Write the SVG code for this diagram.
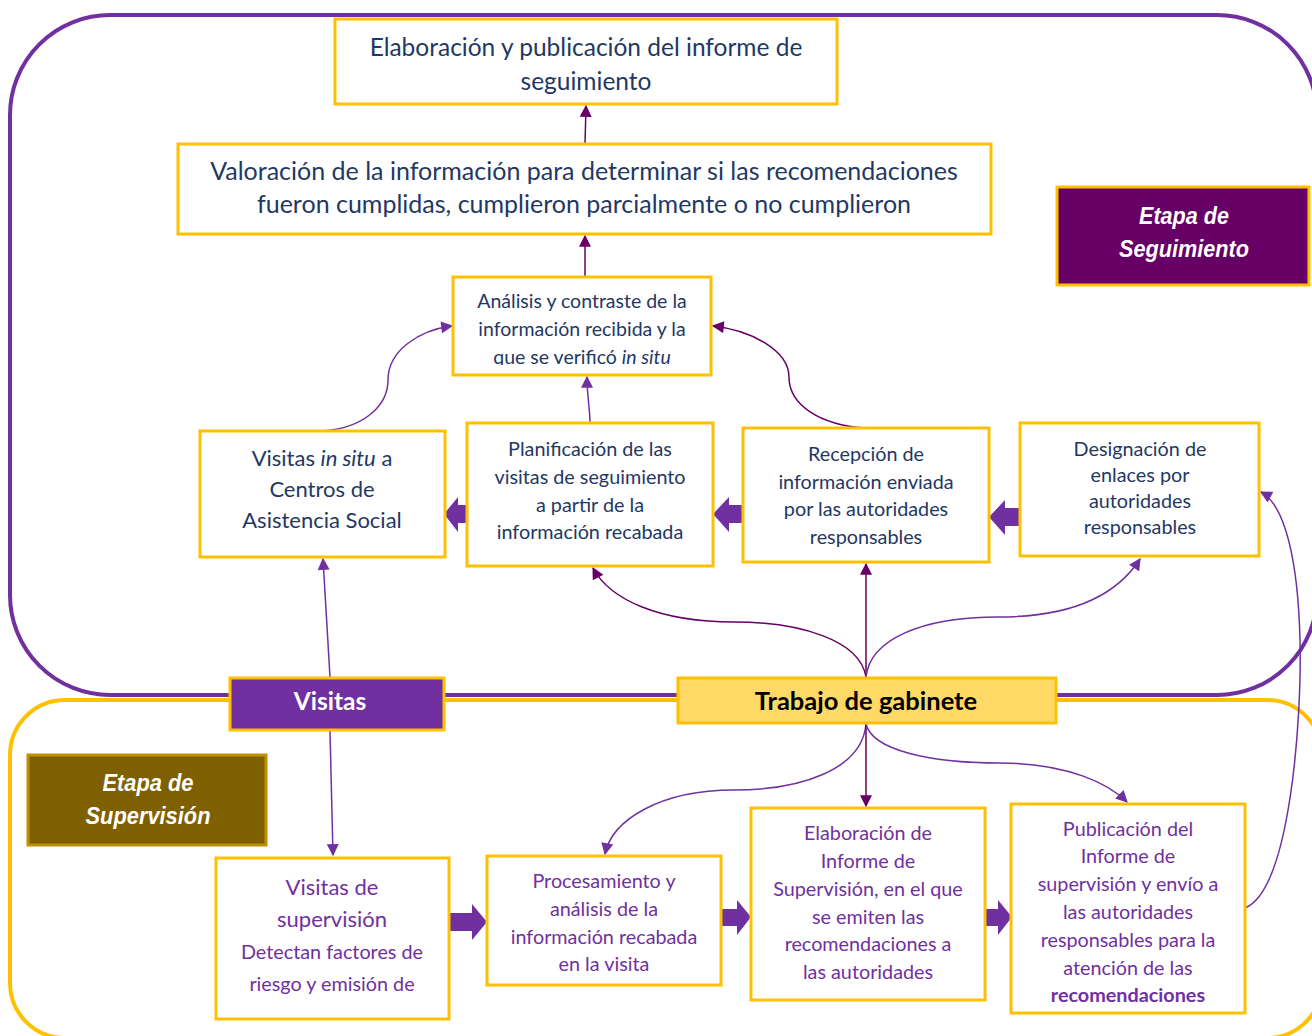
<svg xmlns="http://www.w3.org/2000/svg" width="1312" height="1036" viewBox="0 0 1312 1036">
<style>
.box{fill:#fff;stroke:#FFC000;stroke-width:3}
.t{font-family:Lato,"Liberation Sans",sans-serif;text-anchor:middle}
.navy{fill:#1F3864}
.pur{fill:#7030A0}
.s{font-size:19.8px}
.lbl{font-family:"Liberation Sans",Arial,sans-serif;font-weight:bold;font-style:italic;fill:#fff;text-anchor:middle;font-size:24px}
.c1{fill:none;stroke:#660066;stroke-width:1.5}
.c2{fill:none;stroke:#7030A0;stroke-width:1.5}
.blk{fill:#7030A0}
</style>
<defs>
<marker id="a1" viewBox="0 0 10 10" refX="9" refY="5" markerWidth="13" markerHeight="12" markerUnits="userSpaceOnUse" orient="auto"><path d="M0,0 L10,5 L0,10 z" fill="#660066"/></marker>
<marker id="a2" viewBox="0 0 10 10" refX="9" refY="5" markerWidth="13" markerHeight="12" markerUnits="userSpaceOnUse" orient="auto"><path d="M0,0 L10,5 L0,10 z" fill="#7030A0"/></marker>
<clipPath id="clipC"><rect x="450" y="275" width="265" height="90"/></clipPath>
</defs>

<g id="stage-seguimiento"><rect x="10" y="15" width="1307" height="680" rx="100" ry="100" fill="none" stroke="#7030A0" stroke-width="4"/></g>
<g id="stage-supervision"><rect x="10" y="700" width="1312" height="338" rx="55" ry="55" fill="none" stroke="#FFC000" stroke-width="4"/></g>

<g id="connectors">
<path class="c1" d="M585,144 L586,106" marker-end="url(#a1)"/>
<path class="c1" d="M585,297 L585,236" marker-end="url(#a1)"/>
<path class="c2" d="M322,431 C365,428 388,405 388,380 C388,350 420,330 452,326" marker-end="url(#a2)"/>
<path class="c2" d="M590,423 C590,410 587,395 587,377" marker-end="url(#a2)"/>
<path class="c1" d="M865,428 C820,425 789,405 789,377 C789,350 750,330 713,326" marker-end="url(#a1)"/>
<path class="c1" d="M866,677 C860,640 800,622 734,622 C660,622 610,600 593,568" marker-end="url(#a1)"/>
<path class="c1" d="M866,677 L866,564" marker-end="url(#a1)"/>
<path class="c2" d="M866,677 C870,640 920,617 999,617 C1080,617 1120,590 1140,559" marker-end="url(#a2)"/>
<path class="c2" d="M866,724 C862,770 800,790 734,790 C660,790 612,820 605,854" marker-end="url(#a2)"/>
<path class="c1" d="M866,724 L866,806" marker-end="url(#a1)"/>
<path class="c2" d="M866,724 C872,750 930,763 999,763 C1070,763 1110,785 1127,802" marker-end="url(#a2)"/>
<path class="c2" d="M1245,908 C1290,890 1302,720 1300,640 C1298,560 1285,505 1261,492" marker-end="url(#a2)"/>
<path class="c2" d="M330,677 L323,559" marker-end="url(#a2)"/>
<path class="c2" d="M330,731 L333,855" marker-end="url(#a2)"/>
<polygon class="blk" points="444,514 458,497 458,505 468,505 468,523 458,523 458,532"/>
<polygon class="blk" points="713,514 729,497 729,505 744,505 744,523 729,523 729,532"/>
<polygon class="blk" points="989,517 1005,500 1005,508 1021,508 1021,526 1005,526 1005,535"/>
<polygon class="blk" points="487,922 472,904 472,913 450,913 450,931 472,931 472,940"/>
<polygon class="blk" points="751,917 737,900 737,909 721,909 721,926 737,926 737,935"/>
<polygon class="blk" points="1012,917 998,900 998,909 986,909 986,926 998,926 998,935"/>
</g>

<g id="node-informe-seguimiento">
<rect class="box" x="335" y="19" width="502" height="85"/>
<text class="t navy" font-size="24.5" x="586" y="56">Elaboración y publicación del informe de</text>
<text class="t navy" font-size="24.5" x="586" y="90">seguimiento</text>
</g>

<g id="node-valoracion">
<rect class="box" x="178" y="144" width="813" height="90"/>
<text class="t navy" font-size="25" x="584" y="180">Valoración de la información para determinar si las recomendaciones</text>
<text class="t navy" font-size="25" x="584" y="213">fueron cumplidas, cumplieron parcialmente o no cumplieron</text>
</g>

<g id="node-analisis">
<rect class="box" x="453" y="277" width="258" height="98"/>
<g clip-path="url(#clipC)">
<text class="t navy" font-size="19.5" x="582" y="308">Análisis y contraste de la</text>
<text class="t navy" font-size="19.5" x="582" y="336">información recibida y la</text>
<text class="t navy" font-size="19.5" x="582" y="364">que se verificó <tspan font-style="italic">in situ</tspan></text>
</g>
</g>

<g id="node-visitas-insitu">
<rect class="box" x="200" y="431" width="245" height="126"/>
<text class="t navy" font-size="22" x="322" y="466">Visitas <tspan font-style="italic">in situ</tspan> a</text>
<text class="t navy" font-size="22" x="322" y="497">Centros de</text>
<text class="t navy" font-size="22" x="322" y="528">Asistencia Social</text>
</g>

<g id="node-planificacion">
<rect class="box" x="467" y="423" width="246" height="143"/>
<text class="t navy s" x="590" y="456">Planificación de las</text>
<text class="t navy s" x="590" y="484">visitas de seguimiento</text>
<text class="t navy s" x="590" y="512">a partir de la</text>
<text class="t navy s" x="590" y="539">información recabada</text>
</g>

<g id="node-recepcion">
<rect class="box" x="743" y="428" width="246" height="134"/>
<text class="t navy s" x="866" y="461">Recepción de</text>
<text class="t navy s" x="866" y="489">información enviada</text>
<text class="t navy s" x="866" y="516">por las autoridades</text>
<text class="t navy s" x="866" y="544">responsables</text>
</g>

<g id="node-designacion">
<rect class="box" x="1020" y="423" width="239" height="133"/>
<text class="t navy s" x="1140" y="456">Designación de</text>
<text class="t navy s" x="1140" y="482">enlaces por</text>
<text class="t navy s" x="1140" y="508">autoridades</text>
<text class="t navy s" x="1140" y="534">responsables</text>
</g>

<g id="label-etapa-seguimiento">
<rect x="1057" y="187" width="252" height="98" fill="#660066" stroke="#FFC000" stroke-width="3"/>
<text class="lbl" x="1184" y="224" textLength="90" lengthAdjust="spacingAndGlyphs">Etapa de</text>
<text class="lbl" x="1184" y="257" textLength="130" lengthAdjust="spacingAndGlyphs">Seguimiento</text>
</g>

<g id="node-visitas">
<rect x="230" y="678" width="214" height="52" fill="#7030A0" stroke="#FFC000" stroke-width="3"/>
<text x="330" y="710" font-family="Lato,'Liberation Sans',sans-serif" font-weight="bold" font-size="24.5" fill="#fff" text-anchor="middle">Visitas</text>
</g>

<g id="node-trabajo-gabinete">
<rect x="678" y="678" width="378" height="45" fill="#FFD966" stroke="#FFC000" stroke-width="3"/>
<text x="866" y="710" font-family="Lato,'Liberation Sans',sans-serif" font-weight="bold" font-size="25.5" fill="#000" text-anchor="middle">Trabajo de gabinete</text>
</g>

<g id="label-etapa-supervision">
<rect x="28" y="755" width="238" height="90" fill="#7F6000" stroke="#BF8F00" stroke-width="3"/>
<text class="lbl" x="148" y="791" textLength="91" lengthAdjust="spacingAndGlyphs">Etapa de</text>
<text class="lbl" x="148" y="824" textLength="125" lengthAdjust="spacingAndGlyphs">Supervisión</text>
</g>

<g id="node-visitas-supervision">
<rect class="box" x="216" y="858" width="233" height="161"/>
<text class="t pur" font-size="22" x="332" y="895">Visitas de</text>
<text class="t pur" font-size="22" x="332" y="927">supervisión</text>
<text class="t pur s" x="332" y="959">Detectan factores de</text>
<text class="t pur s" x="332" y="991">riesgo y emisión de</text>
</g>

<g id="node-procesamiento">
<rect class="box" x="487" y="856" width="234" height="129"/>
<text class="t pur s" x="604" y="888">Procesamiento y</text>
<text class="t pur s" x="604" y="916">análisis de la</text>
<text class="t pur s" x="604" y="944">información recabada</text>
<text class="t pur s" x="604" y="971">en la visita</text>
</g>

<g id="node-elaboracion-informe">
<rect class="box" x="751" y="808" width="234" height="192" stroke-width="3.5"/>
<text class="t pur s" x="868" y="840">Elaboración de</text>
<text class="t pur s" x="868" y="868">Informe de</text>
<text class="t pur s" x="868" y="896">Supervisión, en el que</text>
<text class="t pur s" x="868" y="924">se emiten las</text>
<text class="t pur s" x="868" y="951">recomendaciones a</text>
<text class="t pur s" x="868" y="979">las autoridades</text>
</g>

<g id="node-publicacion">
<rect class="box" x="1011" y="804" width="234" height="209"/>
<text class="t pur s" x="1128" y="836">Publicación del</text>
<text class="t pur s" x="1128" y="863">Informe de</text>
<text class="t pur s" x="1128" y="891">supervisión y envío a</text>
<text class="t pur s" x="1128" y="919">las autoridades</text>
<text class="t pur s" x="1128" y="947">responsables para la</text>
<text class="t pur s" x="1128" y="975">atención de las</text>
<text class="t pur s" font-weight="bold" x="1128" y="1002">recomendaciones</text>
</g>
</svg>
